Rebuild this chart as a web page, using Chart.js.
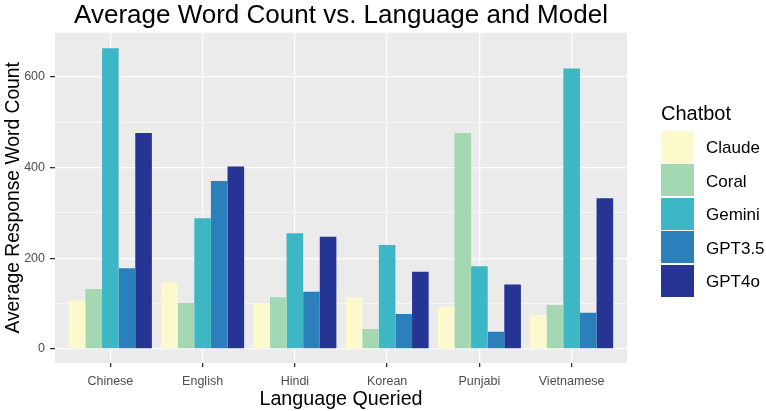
<!DOCTYPE html>
<html>
<head>
<meta charset="utf-8">
<script src="https://cdn.jsdelivr.net/npm/chart.js@4.4.1/dist/chart.umd.min.js"></script>
<style>
  body { margin: 0; background: #fff; font-family: "Liberation Sans", Arial, sans-serif; }
  #wrap { position: relative; width: 766px; height: 411px; }
  #legend { position: absolute; left: 661px; top: 100px; }
  #legend .ttl { font-size: 20px; color: #000; height: 30px; line-height: 26px; }
  #legend .row { display: flex; align-items: center; height: 33.5px; }
  #legend .key { width: 33px; height: 32px; margin-right: 12px; }
  #legend .lab { font-size: 17px; color: #000; padding-top: 3px; }
</style>
</head>
<body>
<div id="wrap">
  <canvas id="grafico" width="766" height="411"></canvas>
  <div id="legend"></div>
</div>
<script>
const idiomas = ['Chinese', 'English', 'Hindi', 'Korean', 'Punjabi', 'Vietnamese'];
const chatbots = ['Claude', 'Coral', 'Gemini', 'GPT3.5', 'GPT4o'];
const cores = ['#fcf9cd', '#a3d8b3', '#3db7c5', '#2b80bb', '#263594'];

// contagem média de palavras por idioma
const claude = [106, 147, 101, 114, 93, 75];
const coral = [132, 101, 114, 44, 476, 97];
const gemini = [663, 288, 255, 229, 182, 618];
const gpt35 = [178, 370, 126, 77, 38, 80];
const gpt4o = [476, 402, 247, 170, 142, 332];
const series = [claude, coral, gemini, gpt35, gpt4o];

const yTicks = [0, 100, 200, 300, 400, 500, 600];
const yLabels = [0, 200, 400, 600];

const painel = {
    id: 'painel',
    beforeDraw(chart) {
        const a = chart.chartArea;
        const ctx = chart.ctx;
        ctx.save();
        ctx.fillStyle = '#ebebeb';
        ctx.fillRect(a.left, a.top, a.right - a.left, a.bottom - a.top);
        ctx.restore();
    }
};

const datasets = chatbots.map((nome, k) => ({
    label: nome,
    data: series[k].map((v, i) => ({ x: i + 1, y: v })),
    backgroundColor: cores[k],
    borderWidth: 0,
    barPercentage: 1,
    categoryPercentage: 0.9
}));

const ctx = document.getElementById('grafico').getContext('2d');
window.grafico = new Chart(ctx, {
    type: 'bar',
    data: { datasets },
    options: {
        responsive: false,
        animation: false,
        layout: { padding: { right: 139, top: 0, left: 0, bottom: 0 } },
        plugins: {
            legend: { display: false },
            tooltip: { enabled: false },
            title: {
                display: true,
                text: 'Average Word Count vs. Language and Model',
                fullSize: false,
                color: '#000',
                font: { family: 'Liberation Sans', size: 26, weight: 'normal' },
                padding: { top: 0, bottom: 1.5 }
            }
        },
        scales: {
            x: {
                type: 'linear',
                min: 0.4,
                max: 6.6,
                offset: false,
                afterBuildTicks(scale) {
                    scale.ticks = idiomas.map((c, i) => ({ value: i + 1 }));
                },
                afterFit(scale) { scale.height = 48; },
                ticks: {
                    autoSkip: false,
                    maxRotation: 0,
                    padding: 7,
                    color: '#4d4d4d',
                    font: { family: 'Liberation Sans', size: 12.5 },
                    callback: (v) => idiomas[v - 1] ?? ''
                },
                grid: {
                    offset: false,
                    color: '#ffffff',
                    lineWidth: 1.3,
                    tickColor: '#333333',
                    tickLength: 4
                },
                border: { display: false },
                title: {
                    display: true,
                    text: 'Language Queried',
                    color: '#000',
                    font: { family: 'Liberation Sans', size: 19.7 },
                    padding: { top: 0, bottom: 0 }
                }
            },
            y: {
                min: -31,
                max: 697,
                afterBuildTicks(scale) {
                    scale.ticks = yTicks.map(v => ({ value: v }));
                },
                afterFit(scale) { scale.width = 55; },
                ticks: {
                    autoSkip: false,
                    padding: 5,
                    color: '#4d4d4d',
                    font: { family: 'Liberation Sans', size: 12.5 },
                    callback: (v) => yLabels.includes(v) ? String(v) : ''
                },
                grid: {
                    color: '#ffffff',
                    lineWidth: (c) => (c.tick && c.tick.value % 200 === 0) ? 1.3 : 0.6,
                    tickColor: (c) => (c.tick && c.tick.value % 200 === 0) ? '#333333' : 'rgba(0,0,0,0)',
                    tickLength: 5
                },
                border: { display: false },
                title: {
                    display: true,
                    text: 'Average Response Word Count',
                    color: '#000',
                    font: { family: 'Liberation Sans', size: 19.3 },
                    padding: { top: 2, bottom: 0 }
                }
            }
        }
    },
    plugins: [painel]
});

// legenda em HTML
const leg = document.getElementById('legend');
leg.innerHTML = '<div class="ttl">Chatbot</div>' + chatbots.map((nome, k) =>
    `<div class="row"><div class="key" style="background:${cores[k]}"></div><div class="lab">${nome}</div></div>`
).join('');
</script>
</body>
</html>
